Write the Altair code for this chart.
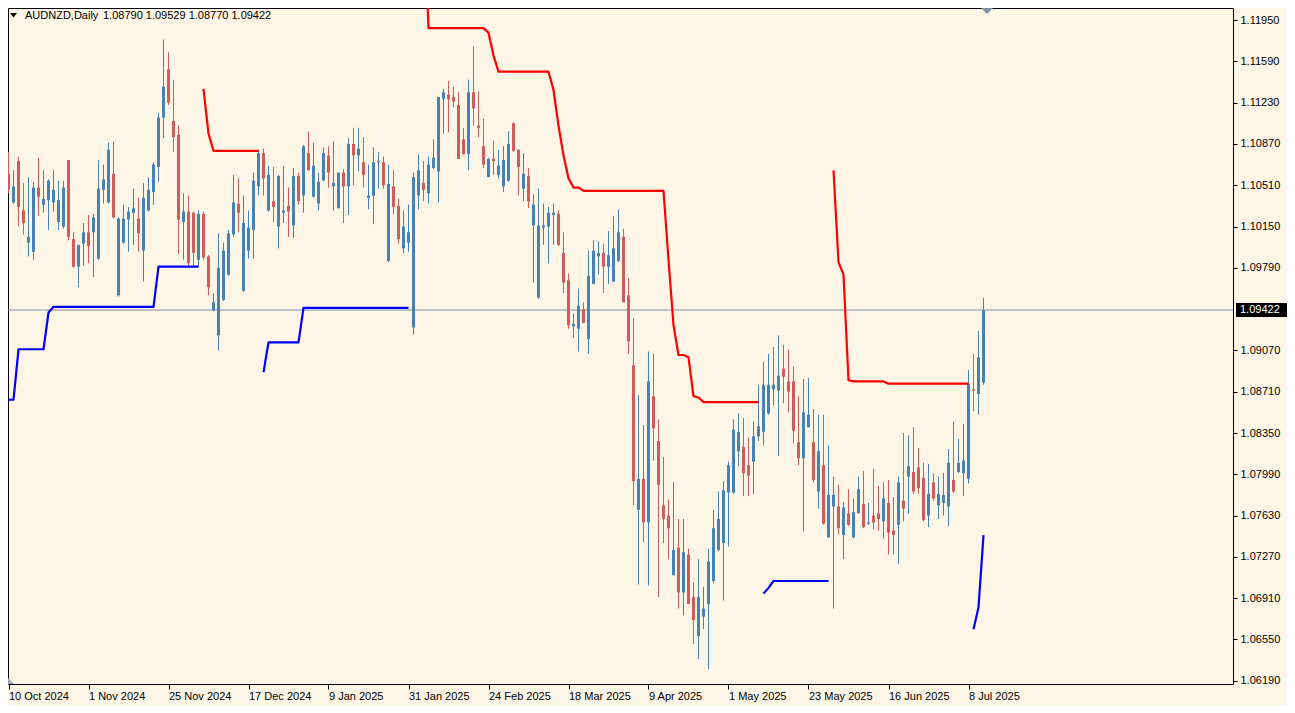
import altair as alt
import pandas as pd

# ---------------- data ----------------
x_labels = ["10 Oct 2024", "1 Nov 2024", "25 Nov 2024", "17 Dec 2024", "9 Jan 2025",
            "31 Jan 2025", "24 Feb 2025", "18 Mar 2025", "9 Apr 2025", "1 May 2025",
            "23 May 2025", "16 Jun 2025", "8 Jul 2025"]
x_label_bars = [0, 16, 32, 48, 64, 80, 96, 112, 128, 144, 160, 176, 192]

y_ticks = [1.0619, 1.0655, 1.0691, 1.0727, 1.0763, 1.0799, 1.0835, 1.0871, 1.0907,
           1.0979, 1.1015, 1.1051, 1.1087, 1.1123, 1.1159, 1.1195]

symbol_title = "AUDNZD,Daily"
last_ohlc = "1.08790 1.09529 1.08770 1.09422"
last_price = 1.09422

opens = [1.1061, 1.1036, 1.1072, 1.1029, 1.1001, 1.0993, 1.1049, 1.1034, 1.1038, 1.1036,
         1.1019, 1.1015, 1.1073, 1.1004, 1.0980, 1.1000, 1.1010, 1.1010, 1.0987, 1.1047,
         1.1036, 1.1061, 1.0955, 1.1001, 1.1021, 1.1027, 1.1022, 1.0994, 1.1029, 1.1045,
         1.1067, 1.1110, 1.1152, 1.1107, 1.1095, 1.1019, 1.1028, 1.1027, 1.0986, 1.1026,
         1.0989, 1.0942, 1.0920, 1.0951, 1.0973, 1.1008, 1.1035, 1.0959, 1.0994, 1.1012,
         1.1050, 1.1079, 1.1029, 1.1037, 1.1015, 1.1027, 1.1033, 1.1016, 1.1059, 1.1042,
         1.1079, 1.1041, 1.1035, 1.1055, 1.1077, 1.1050, 1.1031, 1.1062, 1.1050, 1.1087,
         1.1077, 1.1071, 1.1040, 1.1042, 1.1071, 1.1071, 1.0985, 1.1050, 1.1033, 1.0996,
         1.1001, 1.0927, 1.1042, 1.1053, 1.1044, 1.1066, 1.1063, 1.1126, 1.1130, 1.1128,
         1.1121, 1.1091, 1.1078, 1.1132, 1.1103, 1.1085, 1.1058, 1.1074, 1.1060, 1.1050,
         1.1055, 1.1105, 1.1082, 1.1048, 1.1059, 1.1016, 1.0953, 1.1014, 1.1015, 1.1025,
         1.1026, 1.0992, 1.0968, 1.0928, 1.0926, 1.0943, 1.0917, 1.0965, 1.0989, 1.0992,
         1.0980, 1.0967, 1.0985, 1.1006, 1.0955, 1.0894, 1.0768, 1.0795, 1.0757, 1.0867,
         1.0828, 1.0772, 1.0763, 1.0711, 1.0735, 1.0696, 1.0729, 1.0692, 1.0658, 1.0675,
         1.0686, 1.0706, 1.0733, 1.0739, 1.0783, 1.0783, 1.0819, 1.0823, 1.0807, 1.0810,
         1.0832, 1.0836, 1.0852, 1.0873, 1.0872, 1.0891, 1.0880, 1.0880, 1.0827, 1.0813,
         1.0840, 1.0827, 1.0784, 1.0807, 1.0744, 1.0771, 1.0771, 1.0746, 1.0765, 1.0744,
         1.0765, 1.0773, 1.0756, 1.0763, 1.0765, 1.0758, 1.0774, 1.0750, 1.0755, 1.0776,
         1.0797, 1.0801, 1.0805, 1.0796, 1.0763, 1.0792, 1.0772, 1.0774, 1.0771, 1.0794,
         1.0801, 1.0800, 1.0795, 1.0873, 1.0869, 1.08790]
highs = [1.1080, 1.1064, 1.1076, 1.1053, 1.1058, 1.1054, 1.1075, 1.1064, 1.1056, 1.1064,
         1.1055, 1.1055, 1.1073, 1.1010, 1.0999, 1.1018, 1.1025, 1.1026, 1.1073, 1.1069,
         1.1088, 1.1089, 1.1023, 1.1034, 1.1032, 1.1048, 1.1040, 1.1053, 1.1058, 1.1071,
         1.1114, 1.1178, 1.1167, 1.1143, 1.1103, 1.1044, 1.1042, 1.1028, 1.1029, 1.1028,
         1.0990, 1.0957, 1.1009, 1.1001, 1.1012, 1.1060, 1.1057, 1.1042, 1.1029, 1.1062,
         1.1082, 1.1083, 1.1068, 1.1067, 1.1060, 1.1068, 1.1049, 1.1066, 1.1062, 1.1086,
         1.1098, 1.1088, 1.1062, 1.1084, 1.1085, 1.1089, 1.1062, 1.1065, 1.1092, 1.1101,
         1.1101, 1.1093, 1.1069, 1.1084, 1.1080, 1.1076, 1.1069, 1.1064, 1.1039, 1.1029,
         1.1034, 1.1062, 1.1078, 1.1072, 1.1076, 1.1091, 1.1128, 1.1135, 1.1142, 1.1137,
         1.1132, 1.1101, 1.1143, 1.1172, 1.1133, 1.1109, 1.1075, 1.1090, 1.1082, 1.1085,
         1.1098, 1.1106, 1.1082, 1.1079, 1.1066, 1.1043, 1.1048, 1.1035, 1.1032, 1.1035,
         1.1029, 1.1010, 1.0974, 1.0939, 1.0961, 1.0949, 1.0994, 1.1003, 1.1002, 1.1000,
         1.1011, 1.1024, 1.1030, 1.1013, 1.0970, 1.0935, 1.0868, 1.0842, 1.0906, 1.0904,
         1.0847, 1.0814, 1.0777, 1.0792, 1.0760, 1.0760, 1.0734, 1.0705, 1.0725, 1.0701,
         1.0734, 1.0768, 1.0784, 1.0793, 1.0810, 1.0847, 1.0852, 1.0848, 1.0831, 1.0845,
         1.0877, 1.0897, 1.0904, 1.0910, 1.0920, 1.0912, 1.0908, 1.0893, 1.0867, 1.0882,
         1.0883, 1.0856, 1.0851, 1.0851, 1.0824, 1.0797, 1.0790, 1.0775, 1.0786, 1.0778,
         1.0797, 1.0802, 1.0774, 1.0804, 1.0789, 1.0792, 1.0794, 1.0779, 1.0797, 1.0835,
         1.0833, 1.0840, 1.0822, 1.0809, 1.0808, 1.0800, 1.0797, 1.0800, 1.0821, 1.0845,
         1.0830, 1.0843, 1.0890, 1.0904, 1.0924, 1.09529]
lows = [1.1044, 1.1035, 1.1015, 1.1008, 1.0989, 1.0986, 1.1024, 1.1027, 1.1012, 1.1028,
        1.1012, 1.1013, 1.1003, 1.0979, 1.0962, 1.0981, 1.0983, 1.0971, 1.0986, 1.1035,
        1.1035, 1.1022, 1.0954, 1.1000, 1.0993, 1.0999, 1.0993, 1.0967, 1.1028, 1.1034,
        1.1054, 1.1092, 1.1121, 1.1080, 1.0991, 1.0986, 1.0981, 1.0981, 1.0980, 1.0986,
        1.0955, 1.0941, 1.0907, 1.0950, 1.0972, 1.1006, 1.1010, 1.0958, 1.0987, 1.0987,
        1.1042, 1.1042, 1.1028, 1.1019, 1.0996, 1.1018, 1.1006, 1.1005, 1.1034, 1.1027,
        1.1064, 1.1040, 1.1029, 1.1055, 1.1049, 1.1029, 1.1031, 1.1018, 1.1025, 1.1051,
        1.1063, 1.1049, 1.1030, 1.1017, 1.1048, 1.1048, 1.0984, 1.1026, 1.1000, 1.0992,
        1.0993, 1.0921, 1.1030, 1.1037, 1.1035, 1.1065, 1.1036, 1.1096, 1.1097, 1.1119,
        1.1074, 1.1078, 1.1064, 1.1103, 1.1093, 1.1066, 1.1058, 1.1060, 1.1057, 1.1045,
        1.1054, 1.1080, 1.1042, 1.1037, 1.1031, 1.0966, 1.0952, 1.0999, 1.0983, 1.0999,
        1.0998, 1.0957, 1.0926, 1.0918, 1.0906, 1.0931, 1.0904, 1.0965, 1.0973, 1.0957,
        1.0965, 1.0967, 1.0984, 1.0949, 1.0904, 1.0772, 1.0703, 1.0740, 1.0702, 1.0811,
        1.0692, 1.0739, 1.0725, 1.0711, 1.0682, 1.0676, 1.0686, 1.0651, 1.0638, 1.0664,
        1.0629, 1.0704, 1.0732, 1.0689, 1.0736, 1.0782, 1.0806, 1.0780, 1.0780, 1.0782,
        1.0828, 1.0824, 1.0851, 1.0859, 1.0815, 1.0861, 1.0853, 1.0826, 1.0807, 1.0749,
        1.0840, 1.0792, 1.0769, 1.0755, 1.0744, 1.0682, 1.0747, 1.0725, 1.0754, 1.0743,
        1.0765, 1.0752, 1.0755, 1.0751, 1.0750, 1.0743, 1.0729, 1.0729, 1.0721, 1.0758,
        1.0765, 1.0782, 1.0782, 1.0758, 1.0753, 1.0776, 1.0760, 1.0763, 1.0754, 1.0783,
        1.0800, 1.0780, 1.0791, 1.0854, 1.0851, 1.08770]
closes = [1.1047, 1.1050, 1.1032, 1.1018, 1.1006, 1.1049, 1.1041, 1.1039, 1.1055, 1.1047,
          1.1038, 1.1049, 1.1006, 1.0980, 1.0999, 1.1010, 1.0998, 1.1023, 1.1048, 1.1056,
          1.1082, 1.1023, 1.1022, 1.1022, 1.1028, 1.1031, 1.1009, 1.1040, 1.1047, 1.1069,
          1.1110, 1.1137, 1.1123, 1.1093, 1.1021, 1.1028, 1.0983, 1.0992, 1.1026, 1.0988,
          1.0962, 1.0949, 1.0979, 1.0994, 1.1009, 1.1036, 1.1027, 1.1018, 1.1014, 1.1055,
          1.1079, 1.1057, 1.1060, 1.1032, 1.1059, 1.1029, 1.1028, 1.1059, 1.1037, 1.1085,
          1.1064, 1.1068, 1.1054, 1.1079, 1.1062, 1.1053, 1.1062, 1.1050, 1.1087, 1.1077,
          1.1083, 1.1060, 1.1042, 1.1071, 1.1072, 1.1051, 1.1052, 1.1032, 1.1004, 1.1015,
          1.1010, 1.1058, 1.1064, 1.1047, 1.1069, 1.1075, 1.1128, 1.1132, 1.1126, 1.1124,
          1.1074, 1.1078, 1.1132, 1.1118, 1.1101, 1.1069, 1.1074, 1.1072, 1.1068, 1.1073,
          1.1087, 1.1081, 1.1067, 1.1061, 1.1037, 1.1034, 1.1016, 1.1016, 1.1027, 1.1027,
          1.0999, 1.0966, 1.0929, 1.0930, 1.0946, 1.0931, 1.0972, 1.0994, 1.0992, 1.0980,
          1.0990, 1.0996, 1.1010, 1.0949, 1.0915, 1.0793, 1.0795, 1.0757, 1.0880, 1.0839,
          1.0790, 1.0760, 1.0752, 1.0733, 1.0696, 1.0731, 1.0686, 1.0672, 1.0692, 1.0682,
          1.0723, 1.0752, 1.0760, 1.0785, 1.0807, 1.0838, 1.0836, 1.0800, 1.0798, 1.0832,
          1.0841, 1.0877, 1.0877, 1.0877, 1.0885, 1.0884, 1.0871, 1.0837, 1.0813, 1.0853,
          1.0851, 1.0794, 1.0819, 1.0756, 1.0781, 1.0781, 1.0752, 1.0770, 1.0755, 1.0766,
          1.0786, 1.0753, 1.0757, 1.0757, 1.0760, 1.0778, 1.0748, 1.0746, 1.0792, 1.0769,
          1.0806, 1.0784, 1.0787, 1.0759, 1.0782, 1.0778, 1.0782, 1.0781, 1.0809, 1.0784,
          1.0809, 1.0811, 1.0878, 1.0872, 1.0901, 1.09422]

# indicator: upper (red) stop line, in segments (first bar index, values)
red_a_start = 39
red_a = [1.1135, 1.1096, 1.1081, 1.1081, 1.1081, 1.1081, 1.1081, 1.1081, 1.1081, 1.1081,
         1.1081, 1.1081]
red_b_start = 83
red_b = [1.1300, 1.1188, 1.1188, 1.1188, 1.1188, 1.1188, 1.1188, 1.1188, 1.1188, 1.1188,
         1.1188, 1.1188, 1.1188, 1.1184, 1.1164, 1.1150, 1.1150, 1.1150, 1.1150, 1.1150,
         1.1150, 1.1150, 1.1150, 1.1150, 1.1150, 1.1150, 1.1134, 1.1103, 1.1077, 1.1057,
         1.1049, 1.1049, 1.1046, 1.1046, 1.1046, 1.1046, 1.1046, 1.1046, 1.1046, 1.1046,
         1.1046, 1.1046, 1.1046, 1.1046, 1.1046, 1.1046, 1.1046, 1.1046, 1.1046, 1.0986,
         1.0929, 1.0903, 1.0903, 1.0901, 1.0867, 1.0866, 1.0862, 1.0862, 1.0862, 1.0862,
         1.0862, 1.0862, 1.0862, 1.0862, 1.0862, 1.0862, 1.0862, 1.0862]
red_c_start = 165
red_c = [1.1064, 1.0984, 1.0973, 1.0881, 1.0880, 1.0880, 1.0880, 1.0880, 1.0880, 1.0880,
         1.0880, 1.0878, 1.0878, 1.0878, 1.0878, 1.0878, 1.0878, 1.0878, 1.0878, 1.0878,
         1.0878, 1.0878, 1.0878, 1.0878, 1.0878, 1.0878, 1.0878, 1.0878]

# indicator: lower (blue) stop line, in segments
blue_a_start = 0
blue_a = [1.0864, 1.0864, 1.0908, 1.0908, 1.0908, 1.0908, 1.0908, 1.0908, 1.0940, 1.0945,
          1.0945, 1.0945, 1.0945, 1.0945, 1.0945, 1.0945, 1.0945, 1.0945, 1.0945, 1.0945,
          1.0945, 1.0945, 1.0945, 1.0945, 1.0945, 1.0945, 1.0945, 1.0945, 1.0945, 1.0945,
          1.0980, 1.0980, 1.0980, 1.0980, 1.0980, 1.0980, 1.0980, 1.0980, 1.0980]
blue_b_start = 51
blue_b = [1.0888, 1.0914, 1.0914, 1.0914, 1.0914, 1.0914, 1.0914, 1.0914, 1.0944, 1.0944,
          1.0944, 1.0944, 1.0944, 1.0944, 1.0944, 1.0944, 1.0944, 1.0944, 1.0944, 1.0944,
          1.0944, 1.0944, 1.0944, 1.0944, 1.0944, 1.0944, 1.0944, 1.0944, 1.0944, 1.0944]
blue_c_start = 151
blue_c = [1.0695, 1.0700, 1.0706, 1.0706, 1.0706, 1.0706, 1.0706, 1.0706, 1.0706, 1.0706,
          1.0706, 1.0706, 1.0706, 1.0706]
blue_d_start = 193
blue_d = [1.0664, 1.0683, 1.0746]

# ---------------- tables ----------------
n = len(opens)
candles = pd.DataFrame({"i": list(range(n)), "open": opens, "high": highs,
                        "low": lows, "close": closes})
candles["dir"] = ["up" if c >= o else "down" for o, c in zip(opens, closes)]


def seg_table(parts):
    rows = []
    for sid, (start, vals) in enumerate(parts):
        for k, v in enumerate(vals):
            rows.append({"i": start + k, "v": v, "seg": sid})
    return pd.DataFrame(rows)


red_df = seg_table([(red_a_start, red_a), (red_b_start, red_b), (red_c_start, red_c)])
blue_df = seg_table([(blue_a_start, blue_a), (blue_b_start, blue_b),
                     (blue_c_start, blue_c), (blue_d_start, blue_d)])

# ---------------- styling ----------------
BG = "#FDF5E6"
FONT = "Liberation Sans"
W, H = 1225, 676

label_js = "[" + ",".join("'%s'" % s for s in x_labels) + "]"
x_scale = alt.Scale(domain=[-0.1, 244.9], nice=False, zero=False, padding=0)
y_scale = alt.Scale(domain=[1.06162, 1.12055], nice=False, zero=False, padding=0)

x_axis = alt.Axis(values=x_label_bars, labelExpr=label_js + "[round(datum.value/16)]",
                  orient="bottom", grid=False, domain=False, ticks=True, tickSize=5,
                  tickColor="#000000", labelAlign="left", labelBaseline="top",
                  labelPadding=1, labelFont=FONT, labelFontSize=11,
                  labelColor="#000000", labelOverlap=False, labelFlush=False,
                  labelBound=False, title=None)
y_axis = alt.Axis(values=y_ticks, format=".5f", orient="right", grid=False, domain=False,
                  tickSize=4, tickColor="#000000", labelPadding=3, labelFont=FONT,
                  labelFontSize=11, labelColor="#000000", labelBaseline="middle",
                  labelOverlap=False, labelFlush=False, labelBound=False, title=None)


def X(field="i"):
    return alt.X(field + ":Q", scale=x_scale, axis=x_axis)


def Y(field):
    return alt.Y(field + ":Q", scale=y_scale, axis=y_axis)


col = alt.Color("dir:N", scale=alt.Scale(domain=["up", "down"],
                                         range=["#4682B4", "#CD5C5C"]), legend=None)

base = alt.Chart(candles)
wicks = base.mark_rule(strokeWidth=1).encode(x=X(), y=Y("low"), y2="high", color=col)
bodies = base.mark_bar(size=3).encode(x=X(), y=Y("open"), y2="close", color=col)

price_df = pd.DataFrame({"p": [last_price], "t": ["%.5f" % last_price]})
price_line = alt.Chart(price_df).mark_rule(color="#7D8FA6", strokeWidth=1).encode(
    y=Y("p"))

red_line = alt.Chart(red_df).mark_line(color="#FF0000", strokeWidth=2.2, clip=True,
                                       strokeJoin="round").encode(
    x=X(), y=Y("v"), detail="seg:N")
blue_line = alt.Chart(blue_df).mark_line(color="#0000FF", strokeWidth=2.2, clip=True,
                                         strokeJoin="round").encode(
    x=X(), y=Y("v"), detail="seg:N")

price_tag = alt.Chart(price_df).mark_rule(color="#000000", strokeWidth=14).encode(
    y=Y("p"), x=alt.value(W + 3), x2=alt.value(W + 54))
price_txt = alt.Chart(price_df).mark_text(color="#FFFFFF", font=FONT, fontSize=11,
                                          align="left", baseline="middle").encode(
    y=Y("p"), x=alt.value(W + 7), text="t:N")

title_df = pd.DataFrame({"a": [symbol_title], "b": [last_ohlc]})
title_sym = alt.Chart(title_df).mark_text(font=FONT, fontSize=11, color="#000000",
                                          align="left", baseline="middle").encode(
    x=alt.value(17), y=alt.value(8), text="a:N")
title_ohlc = alt.Chart(title_df).mark_text(font=FONT, fontSize=11, color="#000000",
                                           align="left", baseline="middle").encode(
    x=alt.value(95), y=alt.value(8), text="b:N")
menu_tri = alt.Chart(title_df).mark_point(shape="M-1,-0.6L1,-0.6L0,0.7Z", filled=True,
                                          size=49, color="#000000", opacity=1).encode(
    x=alt.value(5.5), y=alt.value(7))
shift_tri = alt.Chart(title_df).mark_point(shape="M-1,-0.5L1,-0.5L0,0.5Z", filled=True,
                                           size=144, color="#7F93AA", opacity=1,
                                           strokeWidth=0).encode(
    x=alt.value(979), y=alt.value(3))
corner_tri = alt.Chart(title_df).mark_point(shape="M-1,1L-1,-1L1,1Z", filled=True,
                                            size=36, color="#9AA6B8", opacity=1,
                                            strokeWidth=0).encode(
    x=alt.value(3), y=alt.value(H - 3))

chart = alt.layer(
    price_line, wicks, bodies, red_line, blue_line, price_tag, price_txt,
    title_sym, title_ohlc, menu_tri, shift_tri, corner_tri
).properties(
    width=W, height=H,
    autosize=alt.AutoSizeParams(type="none"),
    padding={"left": 0, "top": 0, "right": 54, "bottom": 21},
    background=BG,
).configure_view(
    stroke="#000000", strokeWidth=1, fill=BG
)

chart.save("out.html", embed_options={"renderer": "svg", "actions": False})
